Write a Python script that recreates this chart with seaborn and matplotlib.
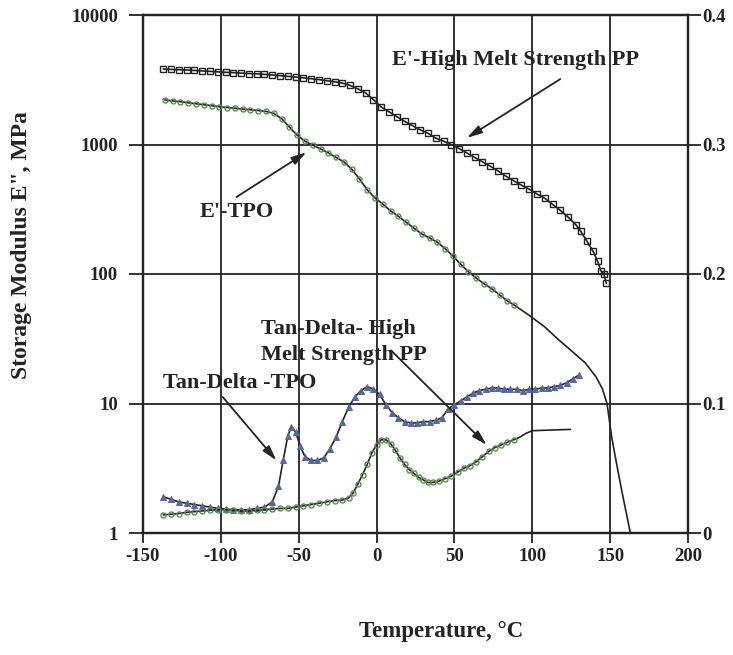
import numpy as np
import pandas as pd
import matplotlib
matplotlib.use("Agg")
import matplotlib.pyplot as plt
import seaborn as sns

# ---- Storage modulus E' (MPa), high melt strength PP ----
hms_temp = [-137, -132, -127, -122, -117, -112, -107, -102, -97, -92, -87, -82,
            -77, -72, -67, -62, -57, -52, -47, -42, -37, -32, -27, -22, -17,
            -12, -7, -2, 3, 8, 13, 18, 23, 28, 33, 38, 43, 48, 53, 58, 63, 68,
            73, 78, 83, 88, 93, 98, 103, 108, 113, 118, 123, 128, 131, 135,
            139, 142, 144, 146, 147.5]
hms_modulus = [3830, 3800, 3780, 3760, 3730, 3700, 3670, 3640, 3610, 3590, 3560,
               3530, 3510, 3480, 3440, 3400, 3360, 3320, 3270, 3220, 3170, 3110,
               3050, 2980, 2860, 2690, 2500, 2220, 1950, 1790, 1640, 1510, 1400,
               1300, 1220, 1120, 1060, 1000, 930, 860, 795, 735, 680, 625, 570,
               525, 485, 452, 415, 385, 345, 310, 275, 240, 215, 180, 150, 125,
               106, 100, 85]

# ---- Storage modulus E' (MPa), TPO ----
tpo_temp = [-136, -131, -126, -121, -116, -111, -106, -101, -96, -91, -86, -81,
            -76, -71, -66, -61, -56, -51, -46, -41, -36, -31, -26, -21, -16,
            -11, -6, -1, 4, 9, 14, 19, 24, 29, 34, 39, 44, 49, 54, 59, 64, 69,
            74, 79, 84, 88, 98, 108, 117, 126, 134, 141, 145, 148, 151, 154,
            157, 160, 163]
tpo_modulus = [2210, 2170, 2140, 2100, 2065, 2030, 1995, 1960, 1930, 1905, 1875,
               1855, 1830, 1800, 1740, 1585, 1365, 1180, 1060, 990, 925, 860,
               795, 735, 645, 543, 447, 386, 347, 307, 279, 251, 226, 204, 190,
               176, 157, 138, 119, 104, 93, 84, 77, 69, 62, 58, 48, 39, 31, 25,
               20.6, 16, 13, 10, 5.5, 3.5, 2.26, 1.5, 1.0]
tpo_marker_limit = 88

# ---- Tan delta, TPO ----
td_tpo_temp = [-137, -132, -127, -122, -117, -112, -107, -102, -97, -92, -87,
               -82, -77, -72, -67, -63, -60, -57, -54.7, -52, -49, -46, -42,
               -38, -34, -30, -26, -22, -18, -14, -10, -6, -2, 2, 6, 10, 14, 18,
               22, 26, 30, 34, 38, 42, 46, 50, 54, 58, 62, 66, 70, 74, 78, 82,
               86, 90, 94, 98, 102, 106, 110, 114, 118, 122, 126, 130]
td_tpo = [0.028, 0.026, 0.024, 0.023, 0.022, 0.021, 0.020, 0.019, 0.0185,
          0.018, 0.018, 0.018, 0.019, 0.020, 0.024, 0.036, 0.056, 0.075, 0.082,
          0.078, 0.067, 0.059, 0.056, 0.056, 0.058, 0.065, 0.074, 0.086, 0.097,
          0.105, 0.110, 0.113, 0.111, 0.107, 0.099, 0.093, 0.089, 0.086, 0.085,
          0.085, 0.086, 0.086, 0.087, 0.089, 0.096, 0.099, 0.102, 0.105, 0.108,
          0.110, 0.111, 0.112, 0.112, 0.111, 0.111, 0.111, 0.110, 0.111, 0.111,
          0.112, 0.112, 0.113, 0.114, 0.116, 0.119, 0.122]

# ---- Tan delta, high melt strength PP ----
td_hms_temp = [-137, -132, -127, -122, -117, -112, -107, -102, -97, -92, -87,
               -82, -77, -72, -67, -62, -57, -52, -47, -42, -37, -32, -27, -22,
               -18, -15, -12, -9, -6, -3, 0, 3, 6, 9, 12, 15, 18, 21, 24, 27,
               30, 33, 36, 40, 44, 48, 52, 56, 60, 64, 68, 72, 76, 80, 84, 88,
               92, 96, 100, 112, 124.5]
td_hms = [0.014, 0.0145, 0.015, 0.016, 0.0165, 0.017, 0.0175, 0.018, 0.018,
          0.0175, 0.017, 0.017, 0.0175, 0.018, 0.0185, 0.019, 0.019, 0.020,
          0.021, 0.022, 0.023, 0.024, 0.025, 0.0255, 0.027, 0.031, 0.038,
          0.045, 0.053, 0.062, 0.068, 0.072, 0.072, 0.069, 0.064, 0.058, 0.053,
          0.049, 0.046, 0.043, 0.041, 0.039, 0.039, 0.040, 0.042, 0.044, 0.047,
          0.050, 0.052, 0.055, 0.059, 0.063, 0.066, 0.068, 0.070, 0.072, 0.074,
          0.077, 0.079, 0.0795, 0.080]
td_hms_marker_limit = 88

# ---- Axis labels and ticks ----
x_ticks = [-150, -100, -50, 0, 50, 100, 150, 200]
left_ticks = [1, 10, 100, 1000, 10000]
left_tick_labels = ["1", "10", "100", "1000", "10000"]
right_ticks = [0, 0.1, 0.2, 0.3, 0.4]
right_tick_labels = ["0", "0.1", "0.2", "0.3", "0.4"]

sns.set_style("white")
plt.rcParams["font.family"] = ["Liberation Serif", "DejaVu Serif"]
plt.rcParams["font.weight"] = "bold"

INK = "#232323"
GREEN = "#5d8c52"
BLUE = "#55679e"

fig = plt.figure(figsize=(7.33, 6.55), dpi=100)
ax = fig.add_axes([143 / 733, 1 - 533 / 655, 545 / 733, 518 / 655])
ax.set_yscale("log")
ax2 = ax.twinx()

line_kw = dict(color=INK, linewidth=1.2, legend=False)

# E' high melt strength PP: open squares along the whole curve
sns.lineplot(x=hms_temp, y=hms_modulus, ax=ax, marker="s", markersize=4.2,
             markerfacecolor="none", markeredgecolor=INK, markeredgewidth=1.0,
             sort=False, **line_kw)

# E' TPO: circles until the end of the measured range, line afterwards
tpo_mask = [t <= tpo_marker_limit for t in tpo_temp]
sns.lineplot(x=tpo_temp, y=tpo_modulus, ax=ax, marker="o", markersize=3.6,
             markevery=tpo_mask, markerfacecolor="none", markeredgecolor=GREEN,
             markeredgewidth=1.0, sort=False, **line_kw)

# Tan delta TPO: triangles
sns.lineplot(x=td_tpo_temp, y=td_tpo, ax=ax2, marker="^", markersize=3.8,
             markerfacecolor=BLUE, markeredgecolor=BLUE, markeredgewidth=0.7,
             sort=False, **line_kw)

# Tan delta high melt strength PP: circles then line
td_mask = [t <= td_hms_marker_limit for t in td_hms_temp]
sns.lineplot(x=td_hms_temp, y=td_hms, ax=ax2, marker="o", markersize=3.6,
             markevery=td_mask, markerfacecolor="none", markeredgecolor=GREEN,
             markeredgewidth=1.0, sort=False, **line_kw)

# Axes limits, ticks and grid
ax.set_xlim(-150, 200)
ax.set_ylim(1, 10000)
ax2.set_ylim(0, 0.4)
ax.set_xticks(x_ticks)
ax.set_xticklabels([str(t) for t in x_ticks])
ax.set_yticks(left_ticks)
ax.set_yticklabels(left_tick_labels)
ax.yaxis.set_minor_locator(matplotlib.ticker.NullLocator())
ax2.set_yticks(right_ticks)
ax2.set_yticklabels(right_tick_labels)

ax.grid(True, which="major", color=INK, linewidth=1.3)
ax2.grid(False)
ax.set_axisbelow(True)

ax.tick_params(axis="x", direction="out", length=7, width=1.3, color=INK,
               pad=4, bottom=True)
ax.tick_params(axis="y", direction="out", length=10, width=1.3, color=INK,
               pad=8, left=True)
ax2.tick_params(axis="y", direction="out", length=9, width=1.3, color=INK,
                pad=1.5, right=True)
for lab in ax.get_xticklabels() + ax.get_yticklabels() + ax2.get_yticklabels():
    lab.set_fontsize(13.5)
    lab.set_fontweight("bold")
    lab.set_color(INK)

for a in (ax, ax2):
    for sp in a.spines.values():
        sp.set_visible(True)
        sp.set_color(INK)
        sp.set_linewidth(1.6)

ax.set_xlabel("")
ax.set_ylabel("")
ax2.set_ylabel("")
fig.text(22 / 733, 1 - 245 / 655, 'Storage Modulus E", MPa', rotation=90,
         ha="center", va="center", fontsize=17, fontweight="bold", color=INK)
fig.text(441 / 733, 1 - 632 / 655, "Temperature, \u00b0C", ha="center",
         va="center", fontsize=16.5, fontweight="bold", color=INK)

# Curve annotations
arrow = dict(arrowstyle="-|>,head_length=0.9,head_width=0.25", color=INK,
             linewidth=1.3, shrinkA=0, shrinkB=0)
txt = dict(fontsize=16, fontweight="bold", color=INK)

ax.text(89, 4490, "E'-High Melt Strength PP", ha="center", va="center", **txt)
ax.annotate("", xy=(58, 1125), xytext=(118, 3200), arrowprops=arrow)

ax.text(-90, 301, "E'-TPO", ha="center", va="center", **txt)
ax.annotate("", xy=(-45, 871), xytext=(-90, 393), arrowprops=arrow)

ax2.text(-74, 0.1475, "Tan-Delta- High\nMelt Strength PP", ha="left",
         va="center", linespacing=1.38, **txt)
ax2.annotate("", xy=(70.7, 0.068), xytext=(9.3, 0.141), arrowprops=arrow)

ax2.text(-88, 0.116, "Tan-Delta -TPO", ha="center", va="center", **txt)
ax2.annotate("", xy=(-64.3, 0.056), xytext=(-98.8, 0.105), arrowprops=arrow)

fig.savefig("out.png", dpi=100, facecolor="white")
